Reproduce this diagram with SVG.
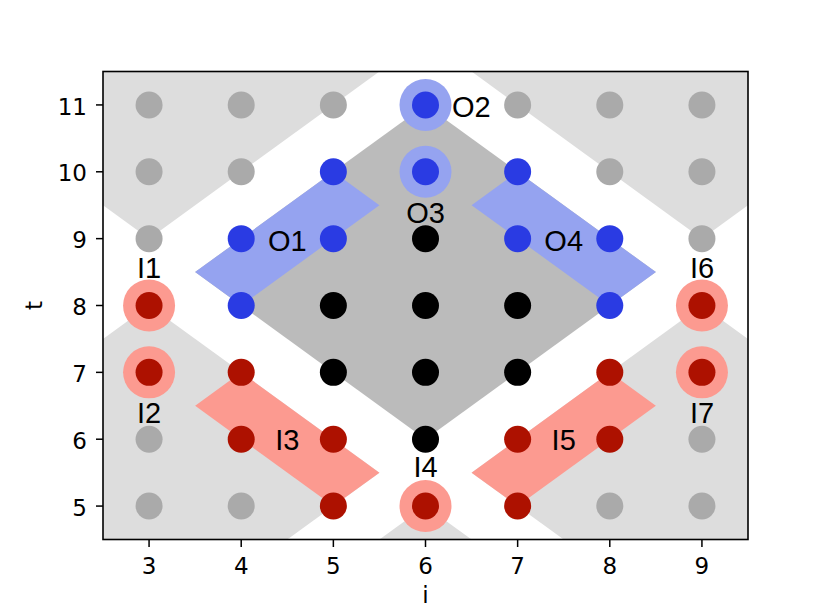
<svg xmlns="http://www.w3.org/2000/svg" width="831" height="607" viewBox="0 0 831 607">
<style>
.lg{fill:#dddddd}
.dg{fill:#bbbbbb}
.bp{fill:#95a3f0}
.rp{fill:#fc9a90}
.gd{fill:#aaaaaa}
.bd{fill:#2a3be3}
.kd{fill:#000000}
.rd{fill:#ad1100}
.lab{font-family:"Liberation Sans",Arial,sans-serif;font-size:29px;fill:#000;text-anchor:middle}
.tk{font-family:"DejaVu Sans",sans-serif;font-size:23px;fill:#000}
.tick{stroke:#000;stroke-width:1.5}
</style>
<defs>
<clipPath id="ax"><rect x="103" y="71.5" width="645" height="468"/></clipPath>
</defs>
<rect width="831" height="607" fill="#fff"/>
<g id="regions" clip-path="url(#ax)">
<polygon class="lg" points="103,71.5 379.43,71.5 149.07,238.64 103,205.21"/>
<polygon class="lg" points="471.57,71.5 748,71.5 748,205.21 701.93,238.64"/>
<polygon class="lg" points="103,539.5 287.29,539.5 379.43,472.64 149.07,305.5 103,338.93"/>
<polygon class="lg" points="748,539.5 563.71,539.5 471.57,472.64 701.93,305.5 748,338.93"/>
<polygon class="lg" points="379.43,539.5 425.5,506.07 471.57,539.5"/>
<polygon class="dg" points="425.5,104.93 655.86,272.07 425.5,439.21 195.14,272.07"/>
<polygon class="bp" points="195.14,272.07 333.36,171.79 379.43,205.21 241.21,305.5"/>
<polygon class="bp" points="655.86,272.07 517.64,171.79 471.57,205.21 609.79,305.5"/>
<polygon class="rp" points="195.14,405.79 241.21,372.36 379.43,472.64 333.36,506.07"/>
<polygon class="rp" points="655.86,405.79 609.79,372.36 471.57,472.64 517.64,506.07"/>
</g>
<g id="halos">
<circle class="bp" cx="425.5" cy="104.93" r="26"/>
<circle class="bp" cx="425.5" cy="171.79" r="26"/>
<circle class="rp" cx="149.07" cy="305.5" r="26"/>
<circle class="rp" cx="149.07" cy="372.36" r="26"/>
<circle class="rp" cx="425.5" cy="506.07" r="26"/>
<circle class="rp" cx="701.93" cy="305.5" r="26"/>
<circle class="rp" cx="701.93" cy="372.36" r="26"/>
</g>
<g id="dots">
<circle class="gd" cx="149.07" cy="104.93" r="13.5"/>
<circle class="gd" cx="241.21" cy="104.93" r="13.5"/>
<circle class="gd" cx="333.36" cy="104.93" r="13.5"/>
<circle class="bd" cx="425.5" cy="104.93" r="13.5"/>
<circle class="gd" cx="517.64" cy="104.93" r="13.5"/>
<circle class="gd" cx="609.79" cy="104.93" r="13.5"/>
<circle class="gd" cx="701.93" cy="104.93" r="13.5"/>
<circle class="gd" cx="149.07" cy="171.79" r="13.5"/>
<circle class="gd" cx="241.21" cy="171.79" r="13.5"/>
<circle class="bd" cx="333.36" cy="171.79" r="13.5"/>
<circle class="bd" cx="425.5" cy="171.79" r="13.5"/>
<circle class="bd" cx="517.64" cy="171.79" r="13.5"/>
<circle class="gd" cx="609.79" cy="171.79" r="13.5"/>
<circle class="gd" cx="701.93" cy="171.79" r="13.5"/>
<circle class="gd" cx="149.07" cy="238.64" r="13.5"/>
<circle class="bd" cx="241.21" cy="238.64" r="13.5"/>
<circle class="bd" cx="333.36" cy="238.64" r="13.5"/>
<circle class="kd" cx="425.5" cy="238.64" r="13.5"/>
<circle class="bd" cx="517.64" cy="238.64" r="13.5"/>
<circle class="bd" cx="609.79" cy="238.64" r="13.5"/>
<circle class="gd" cx="701.93" cy="238.64" r="13.5"/>
<circle class="rd" cx="149.07" cy="305.5" r="13.5"/>
<circle class="bd" cx="241.21" cy="305.5" r="13.5"/>
<circle class="kd" cx="333.36" cy="305.5" r="13.5"/>
<circle class="kd" cx="425.5" cy="305.5" r="13.5"/>
<circle class="kd" cx="517.64" cy="305.5" r="13.5"/>
<circle class="bd" cx="609.79" cy="305.5" r="13.5"/>
<circle class="rd" cx="701.93" cy="305.5" r="13.5"/>
<circle class="rd" cx="149.07" cy="372.36" r="13.5"/>
<circle class="rd" cx="241.21" cy="372.36" r="13.5"/>
<circle class="kd" cx="333.36" cy="372.36" r="13.5"/>
<circle class="kd" cx="425.5" cy="372.36" r="13.5"/>
<circle class="kd" cx="517.64" cy="372.36" r="13.5"/>
<circle class="rd" cx="609.79" cy="372.36" r="13.5"/>
<circle class="rd" cx="701.93" cy="372.36" r="13.5"/>
<circle class="gd" cx="149.07" cy="439.21" r="13.5"/>
<circle class="rd" cx="241.21" cy="439.21" r="13.5"/>
<circle class="rd" cx="333.36" cy="439.21" r="13.5"/>
<circle class="kd" cx="425.5" cy="439.21" r="13.5"/>
<circle class="rd" cx="517.64" cy="439.21" r="13.5"/>
<circle class="rd" cx="609.79" cy="439.21" r="13.5"/>
<circle class="gd" cx="701.93" cy="439.21" r="13.5"/>
<circle class="gd" cx="149.07" cy="506.07" r="13.5"/>
<circle class="gd" cx="241.21" cy="506.07" r="13.5"/>
<circle class="rd" cx="333.36" cy="506.07" r="13.5"/>
<circle class="rd" cx="425.5" cy="506.07" r="13.5"/>
<circle class="rd" cx="517.64" cy="506.07" r="13.5"/>
<circle class="gd" cx="609.79" cy="506.07" r="13.5"/>
<circle class="gd" cx="701.93" cy="506.07" r="13.5"/>
</g>
<g id="labels">
<text class="lab" x="287.3" y="250.5">O1</text>
<text class="lab" x="452" y="116.5" style="text-anchor:start">O2</text>
<text class="lab" x="425.5" y="223">O3</text>
<text class="lab" x="563.7" y="250.5">O4</text>
<text class="lab" x="149" y="278.3">I1</text>
<text class="lab" x="149" y="423.3">I2</text>
<text class="lab" x="287.3" y="450">I3</text>
<text class="lab" x="425.5" y="476.7">I4</text>
<text class="lab" x="563.7" y="450">I5</text>
<text class="lab" x="702" y="278.3">I6</text>
<text class="lab" x="702" y="423.3">I7</text>
</g>
<g id="axes">
<rect x="103" y="71.5" width="645" height="468" fill="none" stroke="#000" stroke-width="1.6"/>
<g class="tick">
<line x1="96" y1="104.93" x2="103" y2="104.93"/>
<line x1="96" y1="171.79" x2="103" y2="171.79"/>
<line x1="96" y1="238.64" x2="103" y2="238.64"/>
<line x1="96" y1="305.5" x2="103" y2="305.5"/>
<line x1="96" y1="372.36" x2="103" y2="372.36"/>
<line x1="96" y1="439.21" x2="103" y2="439.21"/>
<line x1="96" y1="506.07" x2="103" y2="506.07"/>
<line x1="149.07" y1="539.5" x2="149.07" y2="547"/>
<line x1="241.21" y1="539.5" x2="241.21" y2="547"/>
<line x1="333.36" y1="539.5" x2="333.36" y2="547"/>
<line x1="425.5" y1="539.5" x2="425.5" y2="547"/>
<line x1="517.64" y1="539.5" x2="517.64" y2="547"/>
<line x1="609.79" y1="539.5" x2="609.79" y2="547"/>
<line x1="701.93" y1="539.5" x2="701.93" y2="547"/>
</g>
<g class="tk" text-anchor="end">
<text x="87" y="114.5">11</text>
<text x="87" y="181.3">10</text>
<text x="87" y="248.1">9</text>
<text x="87" y="315">8</text>
<text x="87" y="381.9">7</text>
<text x="87" y="448.7">6</text>
<text x="87" y="515.6">5</text>
</g>
<g class="tk" text-anchor="middle">
<text x="149.07" y="574.3">3</text>
<text x="241.21" y="574.3">4</text>
<text x="333.36" y="574.3">5</text>
<text x="425.5" y="574.3">6</text>
<text x="517.64" y="574.3">7</text>
<text x="609.79" y="574.3">8</text>
<text x="701.93" y="574.3">9</text>
<text x="425.5" y="603">i</text>
<text transform="translate(41.5,305.5) rotate(-90)">t</text>
</g>
</g>
</svg>
